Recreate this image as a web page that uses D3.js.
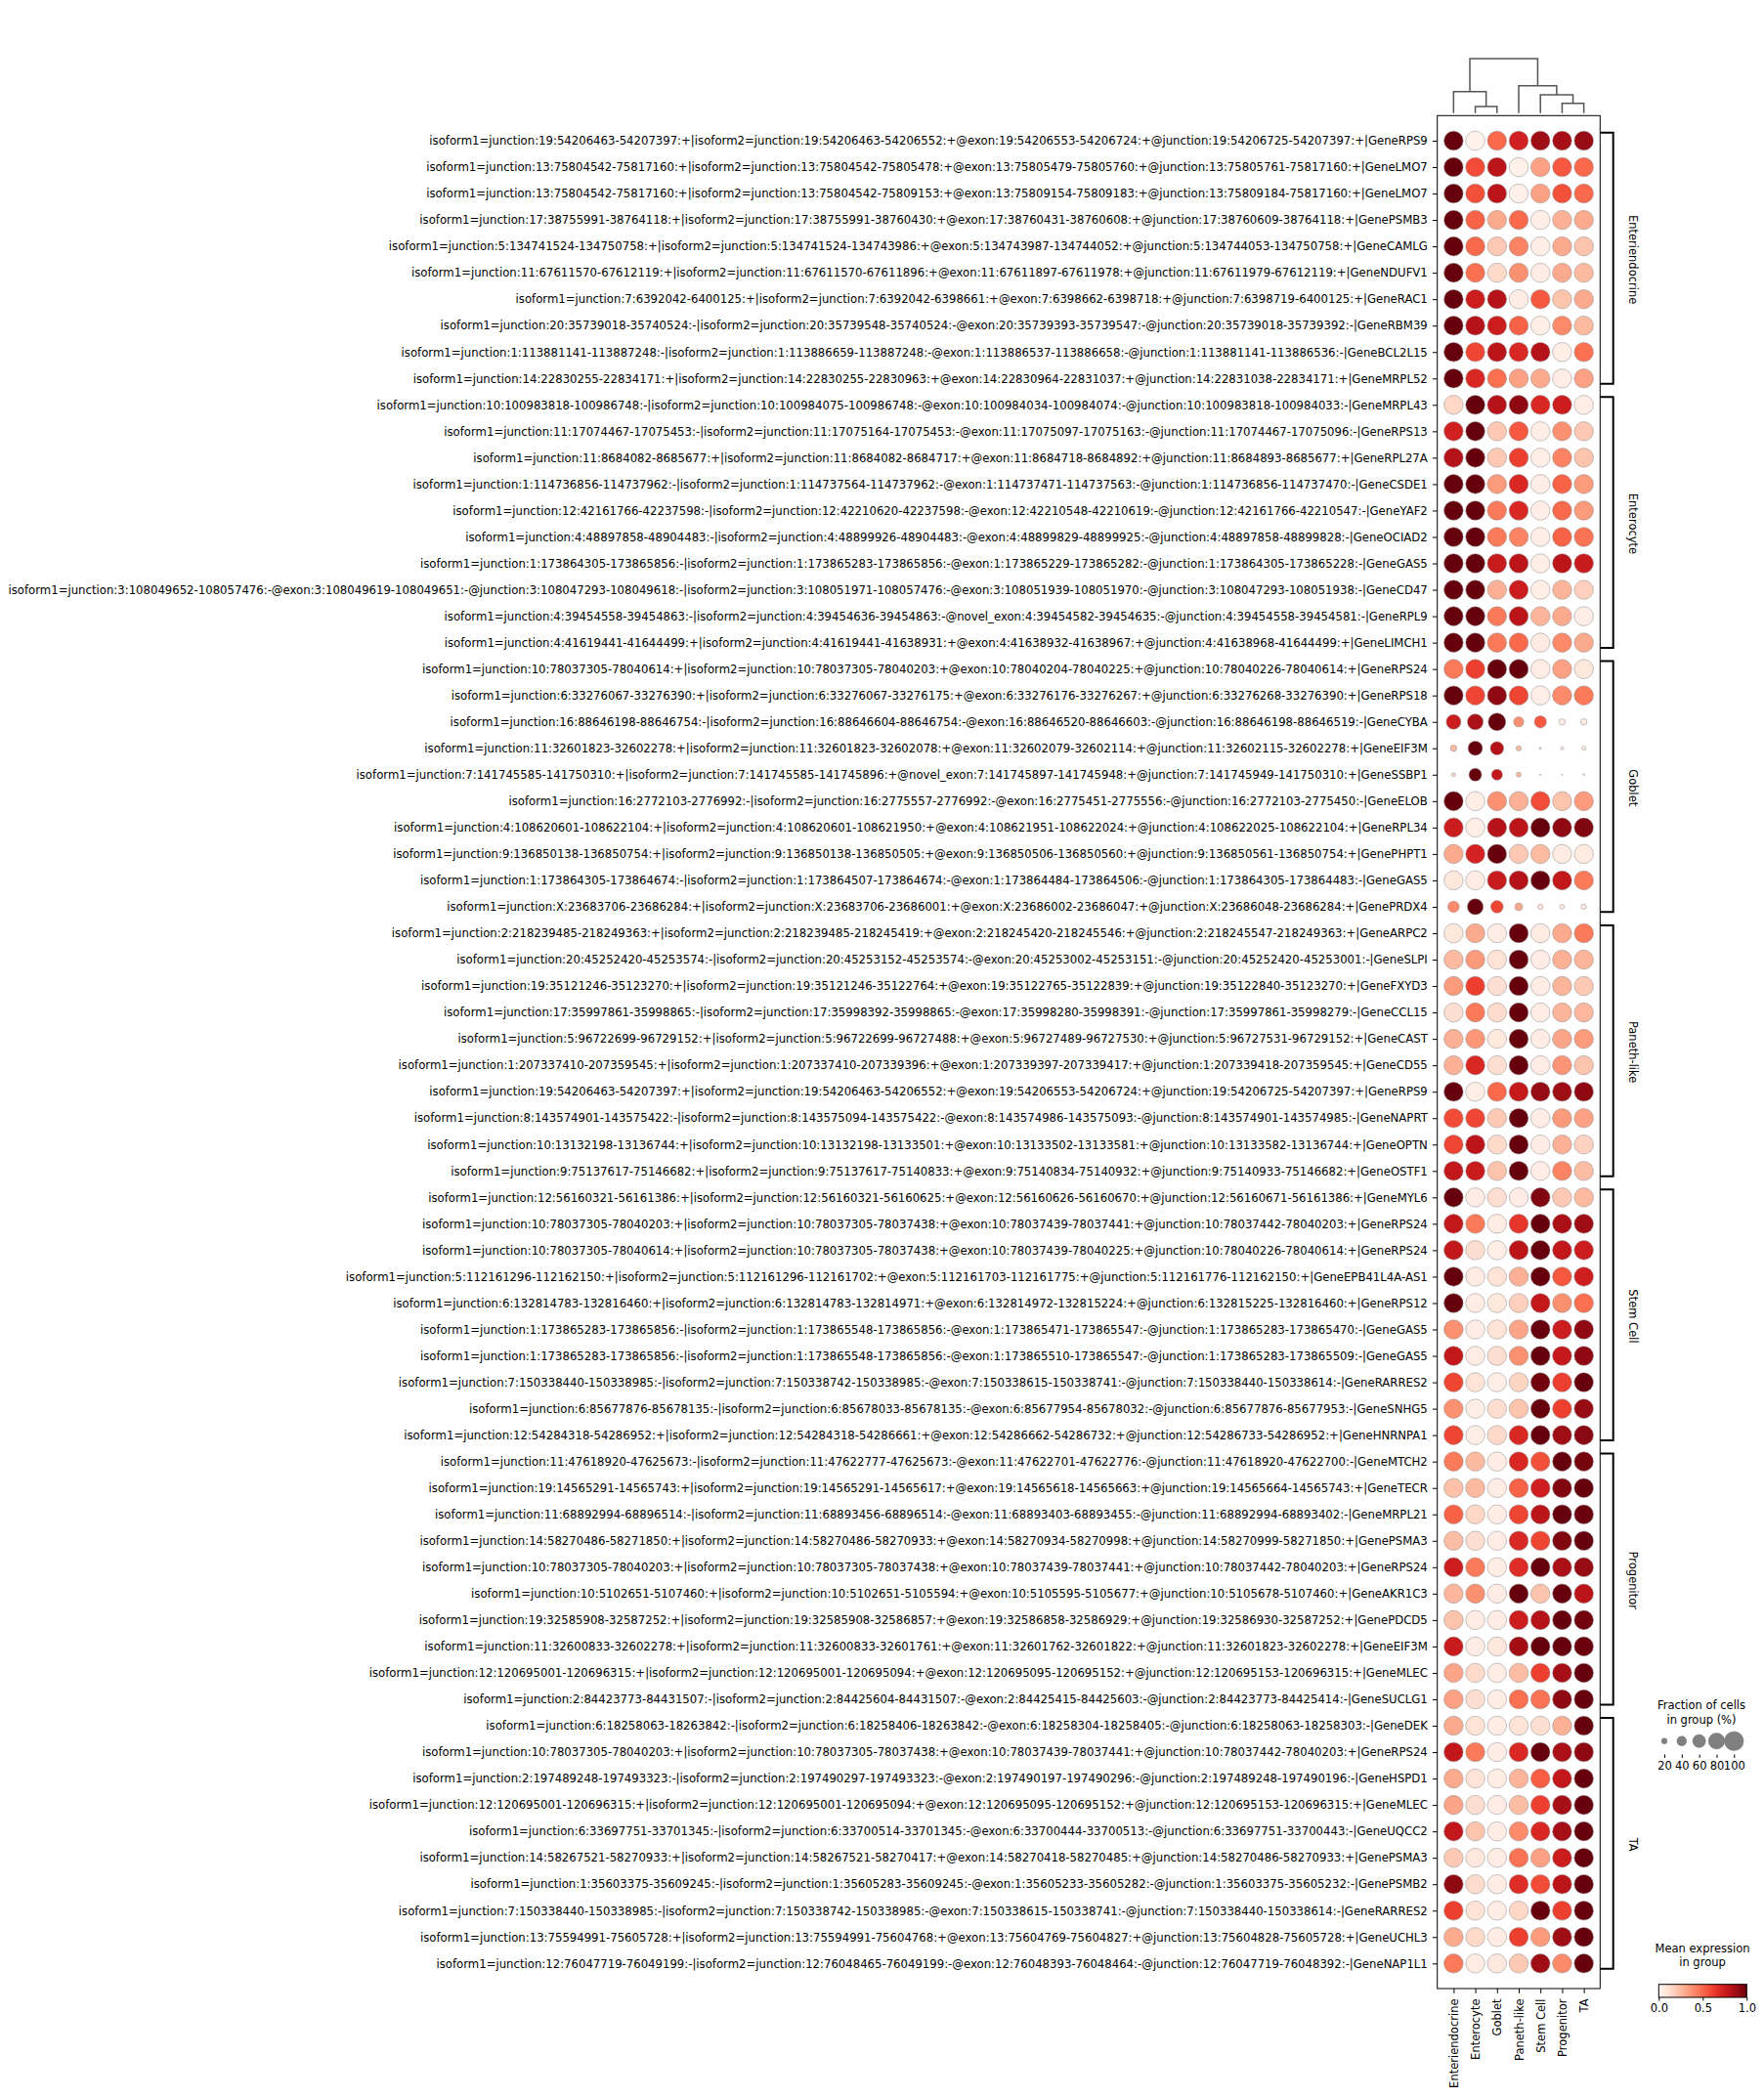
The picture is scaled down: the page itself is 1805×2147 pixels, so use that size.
<!DOCTYPE html>
<html>
<head>
<meta charset="utf-8">
<script src="https://cdn.jsdelivr.net/npm/d3@7"></script>
<style>
  body { margin: 0; background: #fff; }
  text { font-family: "DejaVu Sans", sans-serif; fill: #000; }
</style>
</head>
<body>
<div id="chart"></div>
<script>
// Cell type columns (dendrogram order)
const cellTypes = ["Enteriendocrine", "Enterocyte", "Goblet", "Paneth-like", "Stem Cell", "Progenitor", "TA"];

// Row groups (name, first row, last row)
const groupNames = ["Enteriendocrine", "Enterocyte", "Goblet", "Paneth-like", "Stem Cell", "Progenitor", "TA"];
const groupStarts = [0, 10, 20, 30, 40, 50, 60];
const groupEnds = [9, 19, 29, 39, 49, 59, 69];

// Dendrogram linkage: [childA, childB, height]; leaves 0..6, merges create nodes 7..12
const linkage = [
    [1, 2, 0.12],
    [5, 6, 0.18],
    [4, 8, 0.336],
    [0, 7, 0.395],
    [3, 9, 0.503],
    [10, 11, 1.0]
];

const rowLabels = [
    "isoform1=junction:19:54206463-54207397:+|isoform2=junction:19:54206463-54206552:+@exon:19:54206553-54206724:+@junction:19:54206725-54207397:+|GeneRPS9",
    "isoform1=junction:13:75804542-75817160:+|isoform2=junction:13:75804542-75805478:+@exon:13:75805479-75805760:+@junction:13:75805761-75817160:+|GeneLMO7",
    "isoform1=junction:13:75804542-75817160:+|isoform2=junction:13:75804542-75809153:+@exon:13:75809154-75809183:+@junction:13:75809184-75817160:+|GeneLMO7",
    "isoform1=junction:17:38755991-38764118:+|isoform2=junction:17:38755991-38760430:+@exon:17:38760431-38760608:+@junction:17:38760609-38764118:+|GenePSMB3",
    "isoform1=junction:5:134741524-134750758:+|isoform2=junction:5:134741524-134743986:+@exon:5:134743987-134744052:+@junction:5:134744053-134750758:+|GeneCAMLG",
    "isoform1=junction:11:67611570-67612119:+|isoform2=junction:11:67611570-67611896:+@exon:11:67611897-67611978:+@junction:11:67611979-67612119:+|GeneNDUFV1",
    "isoform1=junction:7:6392042-6400125:+|isoform2=junction:7:6392042-6398661:+@exon:7:6398662-6398718:+@junction:7:6398719-6400125:+|GeneRAC1",
    "isoform1=junction:20:35739018-35740524:-|isoform2=junction:20:35739548-35740524:-@exon:20:35739393-35739547:-@junction:20:35739018-35739392:-|GeneRBM39",
    "isoform1=junction:1:113881141-113887248:-|isoform2=junction:1:113886659-113887248:-@exon:1:113886537-113886658:-@junction:1:113881141-113886536:-|GeneBCL2L15",
    "isoform1=junction:14:22830255-22834171:+|isoform2=junction:14:22830255-22830963:+@exon:14:22830964-22831037:+@junction:14:22831038-22834171:+|GeneMRPL52",
    "isoform1=junction:10:100983818-100986748:-|isoform2=junction:10:100984075-100986748:-@exon:10:100984034-100984074:-@junction:10:100983818-100984033:-|GeneMRPL43",
    "isoform1=junction:11:17074467-17075453:-|isoform2=junction:11:17075164-17075453:-@exon:11:17075097-17075163:-@junction:11:17074467-17075096:-|GeneRPS13",
    "isoform1=junction:11:8684082-8685677:+|isoform2=junction:11:8684082-8684717:+@exon:11:8684718-8684892:+@junction:11:8684893-8685677:+|GeneRPL27A",
    "isoform1=junction:1:114736856-114737962:-|isoform2=junction:1:114737564-114737962:-@exon:1:114737471-114737563:-@junction:1:114736856-114737470:-|GeneCSDE1",
    "isoform1=junction:12:42161766-42237598:-|isoform2=junction:12:42210620-42237598:-@exon:12:42210548-42210619:-@junction:12:42161766-42210547:-|GeneYAF2",
    "isoform1=junction:4:48897858-48904483:-|isoform2=junction:4:48899926-48904483:-@exon:4:48899829-48899925:-@junction:4:48897858-48899828:-|GeneOCIAD2",
    "isoform1=junction:1:173864305-173865856:-|isoform2=junction:1:173865283-173865856:-@exon:1:173865229-173865282:-@junction:1:173864305-173865228:-|GeneGAS5",
    "isoform1=junction:3:108049652-108057476:-@exon:3:108049619-108049651:-@junction:3:108047293-108049618:-|isoform2=junction:3:108051971-108057476:-@exon:3:108051939-108051970:-@junction:3:108047293-108051938:-|GeneCD47",
    "isoform1=junction:4:39454558-39454863:-|isoform2=junction:4:39454636-39454863:-@novel_exon:4:39454582-39454635:-@junction:4:39454558-39454581:-|GeneRPL9",
    "isoform1=junction:4:41619441-41644499:+|isoform2=junction:4:41619441-41638931:+@exon:4:41638932-41638967:+@junction:4:41638968-41644499:+|GeneLIMCH1",
    "isoform1=junction:10:78037305-78040614:+|isoform2=junction:10:78037305-78040203:+@exon:10:78040204-78040225:+@junction:10:78040226-78040614:+|GeneRPS24",
    "isoform1=junction:6:33276067-33276390:+|isoform2=junction:6:33276067-33276175:+@exon:6:33276176-33276267:+@junction:6:33276268-33276390:+|GeneRPS18",
    "isoform1=junction:16:88646198-88646754:-|isoform2=junction:16:88646604-88646754:-@exon:16:88646520-88646603:-@junction:16:88646198-88646519:-|GeneCYBA",
    "isoform1=junction:11:32601823-32602278:+|isoform2=junction:11:32601823-32602078:+@exon:11:32602079-32602114:+@junction:11:32602115-32602278:+|GeneEIF3M",
    "isoform1=junction:7:141745585-141750310:+|isoform2=junction:7:141745585-141745896:+@novel_exon:7:141745897-141745948:+@junction:7:141745949-141750310:+|GeneSSBP1",
    "isoform1=junction:16:2772103-2776992:-|isoform2=junction:16:2775557-2776992:-@exon:16:2775451-2775556:-@junction:16:2772103-2775450:-|GeneELOB",
    "isoform1=junction:4:108620601-108622104:+|isoform2=junction:4:108620601-108621950:+@exon:4:108621951-108622024:+@junction:4:108622025-108622104:+|GeneRPL34",
    "isoform1=junction:9:136850138-136850754:+|isoform2=junction:9:136850138-136850505:+@exon:9:136850506-136850560:+@junction:9:136850561-136850754:+|GenePHPT1",
    "isoform1=junction:1:173864305-173864674:-|isoform2=junction:1:173864507-173864674:-@exon:1:173864484-173864506:-@junction:1:173864305-173864483:-|GeneGAS5",
    "isoform1=junction:X:23683706-23686284:+|isoform2=junction:X:23683706-23686001:+@exon:X:23686002-23686047:+@junction:X:23686048-23686284:+|GenePRDX4",
    "isoform1=junction:2:218239485-218249363:+|isoform2=junction:2:218239485-218245419:+@exon:2:218245420-218245546:+@junction:2:218245547-218249363:+|GeneARPC2",
    "isoform1=junction:20:45252420-45253574:-|isoform2=junction:20:45253152-45253574:-@exon:20:45253002-45253151:-@junction:20:45252420-45253001:-|GeneSLPI",
    "isoform1=junction:19:35121246-35123270:+|isoform2=junction:19:35121246-35122764:+@exon:19:35122765-35122839:+@junction:19:35122840-35123270:+|GeneFXYD3",
    "isoform1=junction:17:35997861-35998865:-|isoform2=junction:17:35998392-35998865:-@exon:17:35998280-35998391:-@junction:17:35997861-35998279:-|GeneCCL15",
    "isoform1=junction:5:96722699-96729152:+|isoform2=junction:5:96722699-96727488:+@exon:5:96727489-96727530:+@junction:5:96727531-96729152:+|GeneCAST",
    "isoform1=junction:1:207337410-207359545:+|isoform2=junction:1:207337410-207339396:+@exon:1:207339397-207339417:+@junction:1:207339418-207359545:+|GeneCD55",
    "isoform1=junction:19:54206463-54207397:+|isoform2=junction:19:54206463-54206552:+@exon:19:54206553-54206724:+@junction:19:54206725-54207397:+|GeneRPS9",
    "isoform1=junction:8:143574901-143575422:-|isoform2=junction:8:143575094-143575422:-@exon:8:143574986-143575093:-@junction:8:143574901-143574985:-|GeneNAPRT",
    "isoform1=junction:10:13132198-13136744:+|isoform2=junction:10:13132198-13133501:+@exon:10:13133502-13133581:+@junction:10:13133582-13136744:+|GeneOPTN",
    "isoform1=junction:9:75137617-75146682:+|isoform2=junction:9:75137617-75140833:+@exon:9:75140834-75140932:+@junction:9:75140933-75146682:+|GeneOSTF1",
    "isoform1=junction:12:56160321-56161386:+|isoform2=junction:12:56160321-56160625:+@exon:12:56160626-56160670:+@junction:12:56160671-56161386:+|GeneMYL6",
    "isoform1=junction:10:78037305-78040203:+|isoform2=junction:10:78037305-78037438:+@exon:10:78037439-78037441:+@junction:10:78037442-78040203:+|GeneRPS24",
    "isoform1=junction:10:78037305-78040614:+|isoform2=junction:10:78037305-78037438:+@exon:10:78037439-78040225:+@junction:10:78040226-78040614:+|GeneRPS24",
    "isoform1=junction:5:112161296-112162150:+|isoform2=junction:5:112161296-112161702:+@exon:5:112161703-112161775:+@junction:5:112161776-112162150:+|GeneEPB41L4A-AS1",
    "isoform1=junction:6:132814783-132816460:+|isoform2=junction:6:132814783-132814971:+@exon:6:132814972-132815224:+@junction:6:132815225-132816460:+|GeneRPS12",
    "isoform1=junction:1:173865283-173865856:-|isoform2=junction:1:173865548-173865856:-@exon:1:173865471-173865547:-@junction:1:173865283-173865470:-|GeneGAS5",
    "isoform1=junction:1:173865283-173865856:-|isoform2=junction:1:173865548-173865856:-@exon:1:173865510-173865547:-@junction:1:173865283-173865509:-|GeneGAS5",
    "isoform1=junction:7:150338440-150338985:-|isoform2=junction:7:150338742-150338985:-@exon:7:150338615-150338741:-@junction:7:150338440-150338614:-|GeneRARRES2",
    "isoform1=junction:6:85677876-85678135:-|isoform2=junction:6:85678033-85678135:-@exon:6:85677954-85678032:-@junction:6:85677876-85677953:-|GeneSNHG5",
    "isoform1=junction:12:54284318-54286952:+|isoform2=junction:12:54284318-54286661:+@exon:12:54286662-54286732:+@junction:12:54286733-54286952:+|GeneHNRNPA1",
    "isoform1=junction:11:47618920-47625673:-|isoform2=junction:11:47622777-47625673:-@exon:11:47622701-47622776:-@junction:11:47618920-47622700:-|GeneMTCH2",
    "isoform1=junction:19:14565291-14565743:+|isoform2=junction:19:14565291-14565617:+@exon:19:14565618-14565663:+@junction:19:14565664-14565743:+|GeneTECR",
    "isoform1=junction:11:68892994-68896514:-|isoform2=junction:11:68893456-68896514:-@exon:11:68893403-68893455:-@junction:11:68892994-68893402:-|GeneMRPL21",
    "isoform1=junction:14:58270486-58271850:+|isoform2=junction:14:58270486-58270933:+@exon:14:58270934-58270998:+@junction:14:58270999-58271850:+|GenePSMA3",
    "isoform1=junction:10:78037305-78040203:+|isoform2=junction:10:78037305-78037438:+@exon:10:78037439-78037441:+@junction:10:78037442-78040203:+|GeneRPS24",
    "isoform1=junction:10:5102651-5107460:+|isoform2=junction:10:5102651-5105594:+@exon:10:5105595-5105677:+@junction:10:5105678-5107460:+|GeneAKR1C3",
    "isoform1=junction:19:32585908-32587252:+|isoform2=junction:19:32585908-32586857:+@exon:19:32586858-32586929:+@junction:19:32586930-32587252:+|GenePDCD5",
    "isoform1=junction:11:32600833-32602278:+|isoform2=junction:11:32600833-32601761:+@exon:11:32601762-32601822:+@junction:11:32601823-32602278:+|GeneEIF3M",
    "isoform1=junction:12:120695001-120696315:+|isoform2=junction:12:120695001-120695094:+@exon:12:120695095-120695152:+@junction:12:120695153-120696315:+|GeneMLEC",
    "isoform1=junction:2:84423773-84431507:-|isoform2=junction:2:84425604-84431507:-@exon:2:84425415-84425603:-@junction:2:84423773-84425414:-|GeneSUCLG1",
    "isoform1=junction:6:18258063-18263842:-|isoform2=junction:6:18258406-18263842:-@exon:6:18258304-18258405:-@junction:6:18258063-18258303:-|GeneDEK",
    "isoform1=junction:10:78037305-78040203:+|isoform2=junction:10:78037305-78037438:+@exon:10:78037439-78037441:+@junction:10:78037442-78040203:+|GeneRPS24",
    "isoform1=junction:2:197489248-197493323:-|isoform2=junction:2:197490297-197493323:-@exon:2:197490197-197490296:-@junction:2:197489248-197490196:-|GeneHSPD1",
    "isoform1=junction:12:120695001-120696315:+|isoform2=junction:12:120695001-120695094:+@exon:12:120695095-120695152:+@junction:12:120695153-120696315:+|GeneMLEC",
    "isoform1=junction:6:33697751-33701345:-|isoform2=junction:6:33700514-33701345:-@exon:6:33700444-33700513:-@junction:6:33697751-33700443:-|GeneUQCC2",
    "isoform1=junction:14:58267521-58270933:+|isoform2=junction:14:58267521-58270417:+@exon:14:58270418-58270485:+@junction:14:58270486-58270933:+|GenePSMA3",
    "isoform1=junction:1:35603375-35609245:-|isoform2=junction:1:35605283-35609245:-@exon:1:35605233-35605282:-@junction:1:35603375-35605232:-|GenePSMB2",
    "isoform1=junction:7:150338440-150338985:-|isoform2=junction:7:150338742-150338985:-@exon:7:150338615-150338741:-@junction:7:150338440-150338614:-|GeneRARRES2",
    "isoform1=junction:13:75594991-75605728:+|isoform2=junction:13:75594991-75604768:+@exon:13:75604769-75604827:+@junction:13:75604828-75605728:+|GeneUCHL3",
    "isoform1=junction:12:76047719-76049199:-|isoform2=junction:12:76048465-76049199:-@exon:12:76048393-76048464:-@junction:12:76047719-76048392:-|GeneNAP1L1"
];

// Mean expression (scaled 0..1), one row per label, columns in cellTypes order
const meanExpr = [
    [1.00, 0.02, 0.50, 0.73, 0.88, 0.86, 0.90],
    [1.00, 0.58, 0.80, 0.03, 0.33, 0.55, 0.50],
    [1.00, 0.57, 0.80, 0.03, 0.33, 0.57, 0.50],
    [1.00, 0.52, 0.30, 0.50, 0.04, 0.28, 0.30],
    [1.00, 0.50, 0.20, 0.42, 0.04, 0.30, 0.22],
    [1.00, 0.48, 0.14, 0.38, 0.05, 0.30, 0.25],
    [1.00, 0.75, 0.82, 0.05, 0.55, 0.22, 0.30],
    [1.00, 0.82, 0.75, 0.52, 0.04, 0.40, 0.25],
    [1.00, 0.60, 0.80, 0.70, 0.82, 0.04, 0.48],
    [1.00, 0.70, 0.48, 0.33, 0.30, 0.05, 0.33],
    [0.15, 1.00, 0.82, 0.92, 0.70, 0.75, 0.04],
    [0.73, 1.00, 0.20, 0.55, 0.04, 0.38, 0.20],
    [0.82, 1.00, 0.20, 0.62, 0.04, 0.42, 0.22],
    [1.00, 1.00, 0.35, 0.70, 0.04, 0.52, 0.35],
    [1.00, 1.00, 0.45, 0.70, 0.04, 0.50, 0.35],
    [1.00, 1.00, 0.45, 0.42, 0.04, 0.52, 0.47],
    [1.00, 1.00, 0.76, 0.80, 0.04, 0.80, 0.76],
    [1.00, 1.00, 0.28, 0.75, 0.04, 0.27, 0.18],
    [1.00, 1.00, 0.45, 0.80, 0.27, 0.30, 0.04],
    [1.00, 1.00, 0.45, 0.50, 0.06, 0.40, 0.30],
    [0.45, 0.62, 1.00, 1.00, 0.05, 0.33, 0.08],
    [1.00, 0.60, 0.92, 0.60, 0.04, 0.40, 0.45],
    [0.75, 0.85, 1.00, 0.38, 0.55, 0.05, 0.05],
    [0.25, 1.00, 0.82, 0.25, 0.10, 0.05, 0.05],
    [0.15, 1.00, 0.78, 0.25, 0.10, 0.05, 0.05],
    [1.00, 0.04, 0.38, 0.28, 0.58, 0.22, 0.35],
    [0.75, 0.04, 0.82, 0.80, 1.00, 0.92, 0.95],
    [0.30, 0.72, 1.00, 0.20, 0.25, 0.06, 0.06],
    [0.08, 0.05, 0.76, 0.82, 1.00, 0.78, 0.45],
    [0.40, 1.00, 0.60, 0.30, 0.08, 0.06, 0.06],
    [0.08, 0.30, 0.05, 1.00, 0.06, 0.30, 0.45],
    [0.25, 0.35, 0.10, 1.00, 0.05, 0.28, 0.27],
    [0.35, 0.62, 0.12, 1.00, 0.05, 0.27, 0.20],
    [0.12, 0.45, 0.13, 1.00, 0.05, 0.27, 0.26],
    [0.28, 0.36, 0.07, 1.00, 0.05, 0.32, 0.35],
    [0.28, 0.70, 0.12, 1.00, 0.05, 0.37, 0.22],
    [1.00, 0.04, 0.50, 0.77, 0.90, 0.88, 0.92],
    [0.58, 0.60, 0.20, 1.00, 0.05, 0.35, 0.33],
    [0.60, 0.80, 0.14, 1.00, 0.05, 0.28, 0.17],
    [0.78, 0.76, 0.22, 1.00, 0.05, 0.42, 0.24],
    [1.00, 0.05, 0.12, 0.05, 0.95, 0.20, 0.25],
    [0.78, 0.45, 0.05, 0.65, 1.00, 0.85, 0.88],
    [0.78, 0.12, 0.04, 0.80, 1.00, 0.78, 0.75],
    [1.00, 0.06, 0.10, 0.28, 1.00, 0.55, 0.74],
    [1.00, 0.05, 0.07, 0.18, 0.78, 0.38, 0.48],
    [0.38, 0.05, 0.10, 0.32, 1.00, 0.75, 0.92],
    [0.78, 0.05, 0.12, 0.38, 1.00, 0.77, 0.92],
    [0.60, 0.10, 0.04, 0.16, 0.98, 0.62, 1.00],
    [0.38, 0.04, 0.12, 0.22, 1.00, 0.62, 0.90],
    [0.60, 0.04, 0.14, 0.70, 1.00, 0.88, 0.93],
    [0.45, 0.25, 0.05, 0.70, 0.57, 1.00, 0.97],
    [0.23, 0.25, 0.05, 0.52, 0.74, 0.95, 1.00],
    [0.52, 0.15, 0.05, 0.60, 0.80, 1.00, 0.99],
    [0.24, 0.12, 0.05, 0.70, 0.60, 0.95, 1.00],
    [0.75, 0.45, 0.05, 0.68, 1.00, 0.85, 0.90],
    [0.26, 0.38, 0.05, 1.00, 0.22, 1.00, 0.80],
    [0.22, 0.05, 0.05, 0.75, 0.82, 1.00, 0.98],
    [0.76, 0.05, 0.08, 0.87, 1.00, 1.00, 0.99],
    [0.32, 0.14, 0.05, 0.24, 0.62, 0.86, 1.00],
    [0.33, 0.12, 0.05, 0.48, 0.47, 0.92, 1.00],
    [0.30, 0.10, 0.05, 0.10, 0.12, 0.28, 1.00],
    [0.78, 0.45, 0.05, 0.70, 1.00, 0.85, 0.92],
    [0.30, 0.10, 0.05, 0.27, 0.53, 0.78, 1.00],
    [0.32, 0.12, 0.05, 0.24, 0.62, 0.86, 1.00],
    [0.78, 0.22, 0.05, 0.40, 0.70, 0.86, 1.00],
    [0.20, 0.08, 0.05, 0.47, 0.33, 0.75, 1.00],
    [0.92, 0.13, 0.05, 0.68, 0.58, 0.80, 1.00],
    [0.62, 0.10, 0.05, 0.15, 1.00, 0.62, 1.00],
    [0.30, 0.14, 0.05, 0.62, 0.35, 0.88, 1.00],
    [0.45, 0.06, 0.08, 0.20, 0.88, 0.40, 1.00]
];

// Fraction of cells in group (0..1)
const fracCells = [
    [1, 1, 1, 1, 1, 1, 1], [1, 1, 1, 1, 1, 1, 1], [1, 1, 1, 1, 1, 1, 1], [1, 1, 1, 1, 1, 1, 1], [1, 1, 1, 1, 1, 1, 1],
    [1, 1, 1, 1, 1, 1, 1], [1, 1, 1, 1, 1, 1, 1], [1, 1, 1, 1, 1, 1, 1], [1, 1, 1, 1, 1, 1, 1], [1, 1, 1, 1, 1, 1, 1],
    [1, 1, 1, 1, 1, 1, 1], [1, 1, 1, 1, 1, 1, 1], [1, 1, 1, 1, 1, 1, 1], [1, 1, 1, 1, 1, 1, 1], [1, 1, 1, 1, 1, 1, 1],
    [1, 1, 1, 1, 1, 1, 1], [1, 1, 1, 1, 1, 1, 1], [1, 1, 1, 1, 1, 1, 1], [1, 1, 1, 1, 1, 1, 1], [1, 1, 1, 1, 1, 1, 1],
    [1, 1, 1, 1, 1, 1, 1], [1, 1, 1, 1, 1, 1, 1],
    [0.70, 0.77, 0.89, 0.43, 0.54, 0.23, 0.23],
    [0.23, 0.68, 0.62, 0.17, 0.05, 0.09, 0.12],
    [0.12, 0.58, 0.47, 0.16, 0.03, 0.03, 0.05],
    [1, 1, 1, 1, 1, 1, 1], [1, 1, 1, 1, 1, 1, 1], [1, 1, 1, 1, 1, 1, 1], [1, 1, 1, 1, 1, 1, 1],
    [0.50, 0.78, 0.56, 0.29, 0.17, 0.15, 0.18],
    [1, 1, 1, 1, 1, 1, 1], [1, 1, 1, 1, 1, 1, 1], [1, 1, 1, 1, 1, 1, 1], [1, 1, 1, 1, 1, 1, 1], [1, 1, 1, 1, 1, 1, 1],
    [1, 1, 1, 1, 1, 1, 1], [1, 1, 1, 1, 1, 1, 1], [1, 1, 1, 1, 1, 1, 1], [1, 1, 1, 1, 1, 1, 1], [1, 1, 1, 1, 1, 1, 1],
    [1, 1, 1, 1, 1, 1, 1], [1, 1, 1, 1, 1, 1, 1], [1, 1, 1, 1, 1, 1, 1], [1, 1, 1, 1, 1, 1, 1], [1, 1, 1, 1, 1, 1, 1],
    [1, 1, 1, 1, 1, 1, 1], [1, 1, 1, 1, 1, 1, 1], [1, 1, 1, 1, 1, 1, 1], [1, 1, 1, 1, 1, 1, 1], [1, 1, 1, 1, 1, 1, 1],
    [1, 1, 1, 1, 1, 1, 1], [1, 1, 1, 1, 1, 1, 1], [1, 1, 1, 1, 1, 1, 1], [1, 1, 1, 1, 1, 1, 1], [1, 1, 1, 1, 1, 1, 1],
    [1, 1, 1, 1, 1, 1, 1], [1, 1, 1, 1, 1, 1, 1], [1, 1, 1, 1, 1, 1, 1], [1, 1, 1, 1, 1, 1, 1], [1, 1, 1, 1, 1, 1, 1],
    [1, 1, 1, 1, 1, 1, 1], [1, 1, 1, 1, 1, 1, 1], [1, 1, 1, 1, 1, 1, 1], [1, 1, 1, 1, 1, 1, 1], [1, 1, 1, 1, 1, 1, 1],
    [1, 1, 1, 1, 1, 1, 1], [1, 1, 1, 1, 1, 1, 1], [1, 1, 1, 1, 1, 1, 1], [1, 1, 1, 1, 1, 1, 1], [1, 1, 1, 1, 1, 1, 1]
];

// Legends
const sizeLegendValues = [20, 40, 60, 80, 100];
const colorLegendTicks = [0.0, 0.5, 1.0];

const FONT = 11.5;
const ROW_FONT = 11.7;
const W = 1805, H = 2147;

const svg = d3.select("#chart").append("svg")
    .attr("width", W)
    .attr("height", H);

// Scales
const frame = {left: 1470.7, right: 1637.3, top: 118.3, bottom: 2035};
const x = d3.scaleLinear().domain([-0.75, cellTypes.length - 0.25]).range([frame.left, frame.right]);
const y = d3.scaleLinear().domain([-0.95, rowLabels.length - 0.05]).range([frame.top, frame.bottom]);
const color = d3.scaleSequential(d3.interpolateReds).domain([0, 1]);
const radius = d3.scalePow().exponent(0.75).domain([0, 1]).range([0, 9.8]);

// Dots
const cells = [];
meanExpr.forEach((row, i) => row.forEach((v, j) => cells.push({row: i, col: j, value: v, frac: fracCells[i][j]})));

svg.append("g")
    .selectAll("circle")
    .data(cells)
    .join("circle")
    .attr("cx", d => x(d.col))
    .attr("cy", d => y(d.row))
    .attr("r", d => radius(d.frac))
    .attr("fill", d => color(d.value))
    .attr("stroke", "#8a8a8a")
    .attr("stroke-width", 0.5);

// Frame
svg.append("rect")
    .attr("x", frame.left)
    .attr("y", frame.top)
    .attr("width", frame.right - frame.left)
    .attr("height", frame.bottom - frame.top)
    .attr("fill", "none")
    .attr("stroke", "#000")
    .attr("stroke-width", 1);

// Row axis (left)
const yAxis = svg.append("g")
    .attr("transform", `translate(${frame.left},0)`)
    .call(d3.axisLeft(y)
        .tickValues(d3.range(rowLabels.length))
        .tickFormat(i => rowLabels[i])
        .tickSize(4.9)
        .tickPadding(5));
yAxis.select(".domain").remove();
yAxis.selectAll("text").attr("font-size", ROW_FONT).attr("font-family", "DejaVu Sans").attr("fill", "#000");

// Column axis (bottom)
const xAxis = svg.append("g")
    .attr("transform", `translate(0,${frame.bottom})`)
    .call(d3.axisBottom(x)
        .tickValues(d3.range(cellTypes.length))
        .tickFormat(j => cellTypes[j])
        .tickSize(4.9));
xAxis.select(".domain").remove();
xAxis.selectAll("text")
    .attr("font-size", FONT)
    .attr("font-family", "DejaVu Sans")
    .attr("fill", "#000")
    .attr("transform", "rotate(-90)")
    .attr("text-anchor", "end")
    .attr("x", -10.5)
    .attr("y", 0)
    .attr("dy", "0.35em");

// Dendrogram
const dendroY = d3.scaleLinear().domain([0, 1]).range([115.7, 60]);
const nodeX = cellTypes.map((c, j) => x(j));
const nodeH = cellTypes.map(() => 0);
const dendro = svg.append("g");
linkage.forEach(([a, b, h]) => {
    dendro.append("path")
        .attr("d", `M${nodeX[a]},${dendroY(nodeH[a])}V${dendroY(h)}H${nodeX[b]}V${dendroY(nodeH[b])}`)
        .attr("fill", "none")
        .attr("stroke", "#555")
        .attr("stroke-width", 1.5);
    nodeX.push((nodeX[a] + nodeX[b]) / 2);
    nodeH.push(h);
});

// Group brackets (right)
const bracketX = 1650.7;
const brackets = svg.append("g");
groupNames.forEach((name, k) => {
    const y0 = y(groupStarts[k] - 0.3);
    const y1 = y(groupEnds[k] + 0.2);
    brackets.append("path")
        .attr("d", `M${frame.right},${y0}H${bracketX}V${y1}H${frame.right}`)
        .attr("fill", "none")
        .attr("stroke", "#000")
        .attr("stroke-width", 2);
    const ym = y((groupStarts[k] + groupEnds[k]) / 2);
    brackets.append("text")
        .attr("x", 1671)
        .attr("y", ym)
        .attr("transform", `rotate(90,1671,${ym})`)
        .attr("text-anchor", "middle")
        .attr("dominant-baseline", "central")
        .attr("font-size", FONT)
        .text(name);
});

// Size legend
const sizeLeg = svg.append("g");
const legX = d3.scalePoint().domain(sizeLegendValues).range([1703, 1774.3]);
sizeLeg.append("text").attr("x", 1741).attr("y", 1749).attr("text-anchor", "middle").attr("font-size", FONT).text("Fraction of cells");
sizeLeg.append("text").attr("x", 1741).attr("y", 1764).attr("text-anchor", "middle").attr("font-size", FONT).text("in group (%)");
sizeLeg.selectAll("circle")
    .data(sizeLegendValues)
    .join("circle")
    .attr("cx", d => legX(d))
    .attr("cy", 1781.7)
    .attr("r", d => radius(d / 100))
    .attr("fill", "#808080")
    .attr("stroke", "#6e6e6e")
    .attr("stroke-width", 0.4);
const sizeAxis = sizeLeg.append("g")
    .attr("transform", "translate(0,1795.5)")
    .call(d3.axisBottom(legX).tickSize(3.5).tickPadding(4));
sizeAxis.select(".domain").remove();
sizeAxis.selectAll("text").attr("font-size", FONT).attr("font-family", "DejaVu Sans").attr("fill", "#000");

// Colour legend
const cbar = {x0: 1697.3, x1: 1787.3, y0: 2030.7, y1: 2044};
const defs = svg.append("defs");
const grad = defs.append("linearGradient").attr("id", "redsGrad");
d3.range(0, 1.0001, 0.05).forEach(t => {
    grad.append("stop").attr("offset", `${t * 100}%`).attr("stop-color", color(t));
});
const colLeg = svg.append("g");
colLeg.append("text").attr("x", 1742).attr("y", 1998).attr("text-anchor", "middle").attr("font-size", FONT).text("Mean expression");
colLeg.append("text").attr("x", 1742).attr("y", 2012).attr("text-anchor", "middle").attr("font-size", FONT).text("in group");
colLeg.append("rect")
    .attr("x", cbar.x0).attr("y", cbar.y0)
    .attr("width", cbar.x1 - cbar.x0).attr("height", cbar.y1 - cbar.y0)
    .attr("fill", "url(#redsGrad)")
    .attr("stroke", "#000")
    .attr("stroke-width", 1);
const cScale = d3.scaleLinear().domain([0, 1]).range([cbar.x0, cbar.x1]);
const cAxis = colLeg.append("g")
    .attr("transform", `translate(0,${cbar.y1})`)
    .call(d3.axisBottom(cScale).tickValues(colorLegendTicks).tickFormat(d3.format(".1f")).tickSize(3.5).tickPadding(3));
cAxis.select(".domain").remove();
cAxis.selectAll("text").attr("font-size", FONT).attr("font-family", "DejaVu Sans").attr("fill", "#000");
</script>
</body>
</html>
